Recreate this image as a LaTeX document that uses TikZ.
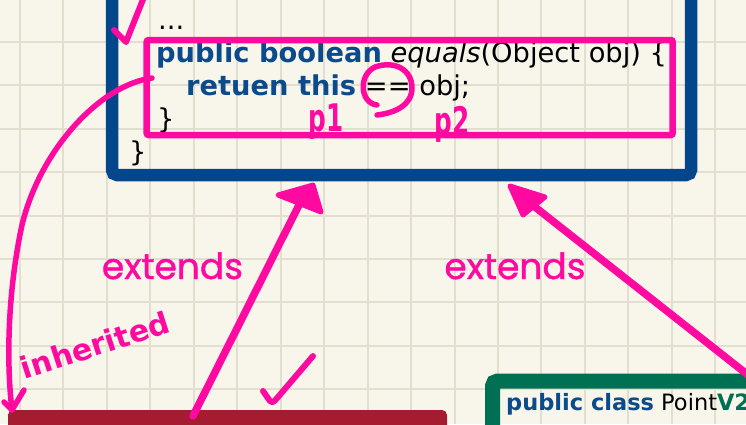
\documentclass[tikz,border=0pt]{standalone}
\usepackage{fontspec}
\setmainfont{DejaVu Sans}
\newfontfamily\comicfont[FakeBold=1.2]{Poppins}
\definecolor{bg}{HTML}{F8F6EA}
\definecolor{gridc}{HTML}{E2DFD0}
\definecolor{boxblue}{HTML}{04468C}
\definecolor{kwblue}{HTML}{0B4A8B}
\definecolor{ink}{HTML}{FF0AA0}
\definecolor{boxred}{HTML}{A51B30}
\definecolor{boxgreen}{HTML}{007055}
\begin{document}
\begin{tikzpicture}[x=1pt,y=-1pt,
  code/.style={inner sep=0pt, anchor=base west, font=\fontsize{27.3}{32}\selectfont},
  codesmall/.style={inner sep=0pt, anchor=base west, font=\fontsize{22.5}{28}\selectfont},
  pen/.style={draw=ink, line width=6pt, line cap=round, line join=round},
  shaft/.style={draw=ink, line width=7.5pt, line cap=round},
  headtri/.style={fill=ink, draw=ink, line width=5pt, line join=round},
  elabel/.style={text=ink, inner sep=0pt, anchor=base, font=\comicfont\fontsize{36}{40}\selectfont},
  hand/.style={text=ink, inner sep=0pt, font=\bfseries\fontsize{30}{30}\selectfont},
]
\useasboundingbox (0,0) rectangle (746,424);
\fill[bg] (0,0) rectangle (746,424);
\clip (0,0) rectangle (746,424);
% grid
\foreach \i in {0,...,16} \draw[gridc, line width=2pt] ({20+43.45*\i},0) -- ({20+43.45*\i},424);
\foreach \j in {0,...,10} \draw[gridc, line width=2pt] (0,{-1.75+43.45*\j}) -- (746,{-1.75+43.45*\j});

% parent class box (blue)
\draw[boxblue, line width=12.5pt, rounded corners=5pt] (112,-60) rectangle (691,175);
\coordinate (tipA) at (313,185);
\coordinate (tipB) at (510,186);

% code
\node[code] (dots) at (158,29) {...};
\node[code] (sig) at (156,62) {\textcolor{kwblue}{\bfseries public boolean} \textit{equals}(Object obj) \{};
\node[code] (ret) at (186,95) {\textcolor{kwblue}{\bfseries retuen this} == obj;};
\node[code] (cl1) at (157,128) {\}};
\node[code] (cl2) at (129,161.5) {\}};

% highlight rectangle
\draw[ink, line width=6.5pt, rounded corners=2pt] (146.7,40) rectangle (672.7,135);
\coordinate (hlL) at (152,78);

% child boxes
\fill[boxred, rounded corners=5pt] (8,410) rectangle (447,460);
\coordinate (redTop) at (193,416);
\draw[boxgreen, line width=15pt, rounded corners=5pt] (492.5,381) rectangle (820,520);
\coordinate (greenTop) at (762,386);
\node[codesmall] (pv2) at (506,410) {\textcolor{kwblue}{\bfseries public class} Point\textcolor{boxgreen}{\bfseries V2}};

% extends arrow 1
\coordinate (baseA) at (299,205);
\draw[shaft] (redTop) -- (baseA);
\filldraw[headtri] (tipA) -- (278,195) -- (321,212) -- cycle;
\node[elabel] (ext1) at (172.5,279) {extends};

% extends arrow 2
\coordinate (baseB) at (535,207);
\draw[shaft] (greenTop) -- (baseB);
\filldraw[headtri] (tipB) -- (523,215) -- (545,197) -- cycle;
\node[elabel] (ext2) at (515,279) {extends};

% check marks
\draw[pen] (114,30) -- (126,42) -- (146,-8);
\draw[pen, rounded corners=4pt] (263,391) -- (272,404) -- (313,356);

% circle around ==
\draw[pen, line width=5.5pt] (377,105) .. controls (360,103) and (358,75) .. (375,67) .. controls (395,60) and (412,70) .. (412,88) .. controls (412,105) and (395,113) .. (377,115);

% p1, p2
\node[hand, xscale=0.65, font=\bfseries\fontsize{38}{38}\selectfont] (p1) at (326,122) {p1};
\node[hand, xscale=0.65, font=\bfseries\fontsize{38}{38}\selectfont] (p2) at (452,124) {p2};

% inherited arrow
\coordinate (inhTip) at (12,410);
\draw[pen, line width=5.5pt] (hlL) .. controls (100,85) and (40,150) .. (22,225) .. controls (8,290) and (6,360) .. (inhTip);
\draw[pen, line width=5.5pt] (4,402) -- (inhTip) -- (24,390);
\node[hand, rotate=18] (inh) at (95,345) {inherited};
\end{tikzpicture}
\end{document}
